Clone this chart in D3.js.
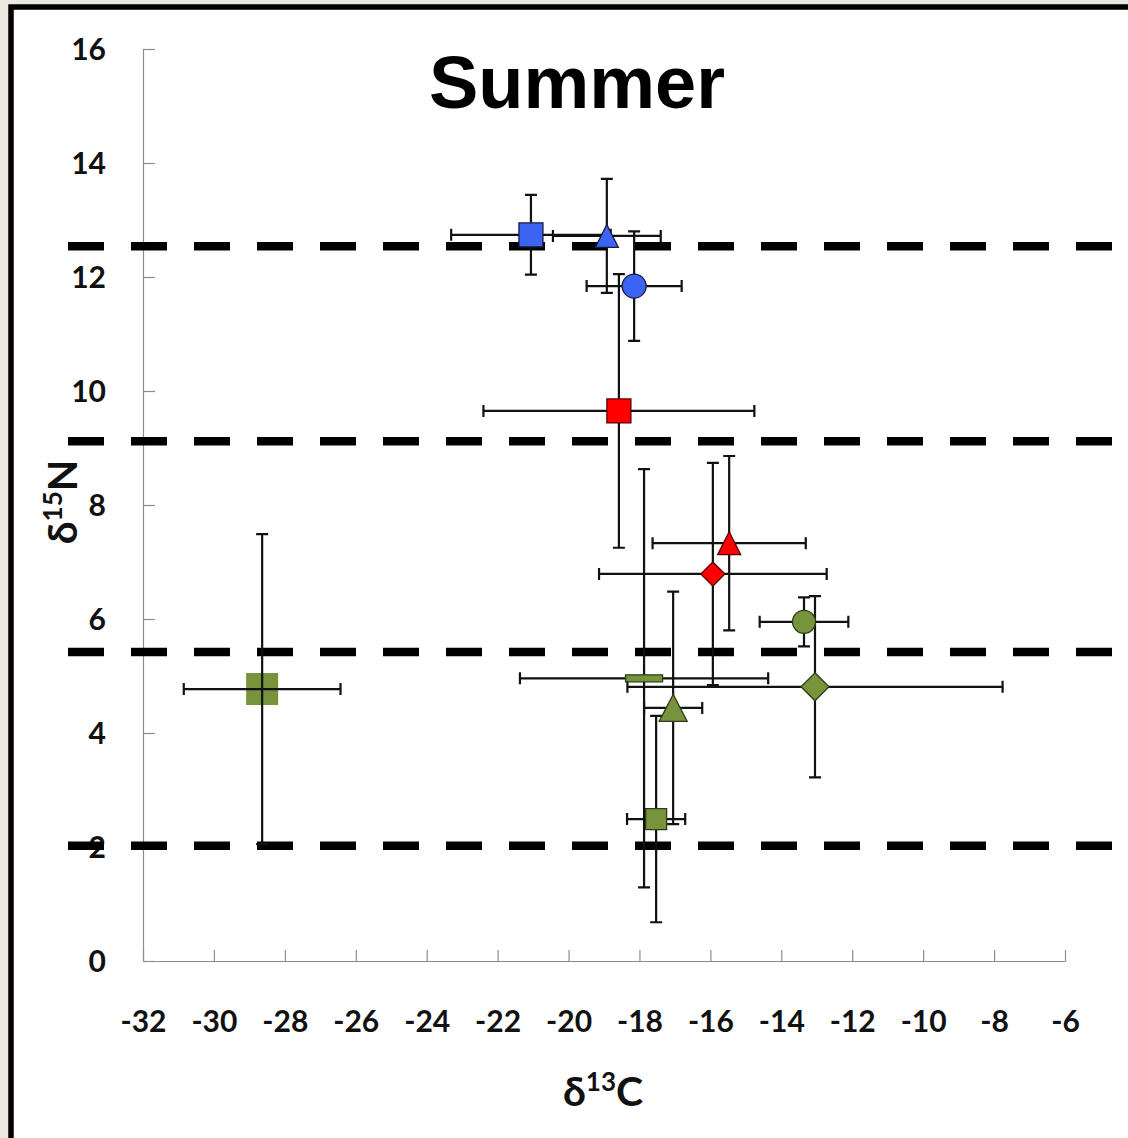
<!DOCTYPE html>
<html>
<head>
<meta charset="utf-8">
<script src="https://cdn.jsdelivr.net/npm/d3@7"></script>
<style>
  body { margin: 0; background: #ebe8df; }
  .tick text { font-family: Lato, "Open Sans", sans-serif; font-weight: bold; font-size: 30px; fill: #111; }
</style>
</head>
<body>
<div class="canvas"></div>
<script>
// values
const samples   = ['blue square', 'blue triangle', 'blue circle', 'red square', 'red triangle', 'red diamond',
                   'green circle', 'green diamond', 'green bar', 'green triangle', 'green small square', 'green big square'];
const d13C      = [-21.06, -18.92, -18.15, -18.58, -15.47, -15.93, -13.36, -13.05, -17.87, -17.05, -17.53, -28.64];
const d15N      = [12.74, 12.72, 11.84, 9.65, 7.33, 6.79, 5.95, 4.81, 4.96, 4.44, 2.49, 4.77];
const errC      = [2.25, 1.52, 1.34, 3.82, 2.16, 3.21, 1.25, 5.29, 3.5, 0.82, 0.82, 2.21];
const errN      = [0.7, 1.0, 0.96, 2.4, 1.53, 1.95, 0.43, 1.59, 3.67, 2.04, 1.81, 2.72];
const trophicLevels = [12.54, 9.12, 5.42, 2.02];
const xTicks = d3.range(-32, -5, 2);
const yTicks = d3.range(0, 17, 2);

// marker looks
const blue = '#3b64f2', red = '#ff0000', green = '#77933c';
const looks = {
  'blue square':        { shape: 'square',   w: 24, h: 24, fill: blue,  stroke: '#1b1b3a' },
  'blue triangle':      { shape: 'triangle', w: 23, h: 23, fill: blue,  stroke: '#1b1b3a' },
  'blue circle':        { shape: 'circle',   w: 24, h: 24, fill: blue,  stroke: '#1b1b3a' },
  'red square':         { shape: 'square',   w: 24, h: 24, fill: red,   stroke: '#5a0000' },
  'red triangle':       { shape: 'triangle', w: 23, h: 23, fill: red,   stroke: '#5a0000' },
  'red diamond':        { shape: 'diamond',  w: 24, h: 24, fill: red,   stroke: '#5a0000' },
  'green circle':       { shape: 'circle',   w: 23, h: 23, fill: green, stroke: '#2f3b17' },
  'green diamond':      { shape: 'diamond',  w: 28, h: 28, fill: green, stroke: '#2f3b17' },
  'green bar':          { shape: 'square',   w: 37, h: 7,  fill: green, stroke: '#2f3b17' },
  'green triangle':     { shape: 'triangle', w: 28, h: 27, fill: green, stroke: '#2f3b17' },
  'green small square': { shape: 'square',   w: 21, h: 21, fill: green, stroke: '#2f3b17' },
  'green big square':   { shape: 'square',   w: 32, h: 32, fill: green, stroke: 'none', under: true }
};

const dims = { width: 1128, height: 1138 };
const plot = { left: 143, right: 1065, top: 49, bottom: 961 };

const svg = d3.select('.canvas')
    .append('svg')
    .attr('width', dims.width)
    .attr('height', dims.height)
    .style('display', 'block');

svg.append('rect')
    .attr('width', dims.width).attr('height', dims.height)
    .attr('fill', '#ebe8df');

svg.append('rect')
    .attr('x', 11).attr('y', 7)
    .attr('width', 1300).attr('height', 1300)
    .attr('fill', '#fff')
    .attr('stroke', '#000')
    .attr('stroke-width', 5.5);

const x = d3.scaleLinear().domain([-32, -6]).range([plot.left, plot.right]);
const y = d3.scaleLinear().domain([0, 16]).range([plot.bottom, plot.top]);

// axes
const xAxis = svg.append('g')
    .attr('transform', `translate(0,${plot.bottom})`)
    .call(d3.axisBottom(x).tickValues(xTicks).tickFormat(d3.format('d'))
        .tickSizeInner(-11).tickSizeOuter(0).tickPadding(50));
const yAxis = svg.append('g')
    .attr('transform', `translate(${plot.left},0)`)
    .call(d3.axisLeft(y).tickValues(yTicks).tickFormat(d3.format('d'))
        .tickSizeInner(-12).tickSizeOuter(0).tickPadding(37));

[xAxis, yAxis].forEach(a => {
    a.select('.domain').attr('stroke', '#8c8c8c').attr('stroke-width', 1.2);
    a.selectAll('.tick line').attr('stroke', '#8c8c8c').attr('stroke-width', 1.2);
    a.attr('font-family', null).attr('font-size', null);
});
xAxis.selectAll('.tick text').text(d => d3.format('d')(d).replace('−', '-'));
yAxis.selectAll('.tick text').attr('dy', '0.35em');

// trophic level dashed lines
svg.append('g').selectAll('line')
    .data(trophicLevels)
    .enter().append('line')
      .attr('x1', 68).attr('x2', dims.width + 20)
      .attr('y1', d => y(d)).attr('y2', d => y(d))
      .attr('stroke', '#000')
      .attr('stroke-width', 8.5)
      .attr('stroke-dasharray', '36 27');

const points = samples.map((name, i) => ({
    name, c: d13C[i], n: d15N[i], ec: errC[i], en: errN[i], look: looks[name]
}));

const markerPath = (look) => {
    const w = look.w / 2, h = look.h / 2;
    switch (look.shape) {
        case 'square':   return `M${-w},${-h}H${w}V${h}H${-w}Z`;
        case 'triangle': return `M0,${-h}L${w},${h}L${-w},${h}Z`;
        case 'diamond':  return `M0,${-h}L${w},0L0,${h}L${-w},0Z`;
        case 'circle':   return `M${-w},0A${w},${h} 0 1,0 ${w},0A${w},${h} 0 1,0 ${-w},0Z`;
    }
};

const drawMarkers = (data) => {
    svg.append('g').selectAll('path')
        .data(data)
        .enter().append('path')
          .attr('transform', d => `translate(${x(d.c)},${y(d.n)})`)
          .attr('d', d => markerPath(d.look))
          .attr('fill', d => d.look.fill)
          .attr('stroke', d => d.look.stroke)
          .attr('stroke-width', 1.3);
};

drawMarkers(points.filter(d => d.look.under));

// error bars
const cap = 6;
const bars = svg.append('g')
    .attr('stroke', '#111')
    .attr('stroke-width', 2.2)
    .attr('fill', 'none');

const errPath = d => {
    const cx = x(d.c), cy = y(d.n);
    const xl = x(d.c - d.ec), xr = x(d.c + d.ec);
    const yt = y(d.n + d.en), yb = y(d.n - d.en);
    return `M${xl},${cy}H${xr}M${xl},${cy - cap}V${cy + cap}M${xr},${cy - cap}V${cy + cap}` +
           `M${cx},${yt}V${yb}M${cx - cap},${yt}H${cx + cap}M${cx - cap},${yb}H${cx + cap}`;
};

bars.selectAll('path')
    .data(points)
    .enter().append('path')
      .attr('d', errPath);

drawMarkers(points.filter(d => !d.look.under));

// titles
svg.append('text')
    .attr('x', 577).attr('y', 108)
    .attr('text-anchor', 'middle')
    .attr('font-family', '"Liberation Sans", Arial, sans-serif')
    .attr('font-weight', 'bold')
    .attr('font-size', 74)
    .text('Summer');

const axisTitle = (g, sup, letter) => {
    const t = g.append('text')
        .attr('text-anchor', 'middle')
        .attr('font-family', 'Lato, "Open Sans", sans-serif')
        .attr('font-weight', 'bold')
        .attr('font-size', 41)
        .attr('fill', '#111');
    t.append('tspan').text('δ');
    t.append('tspan').attr('font-size', 26).attr('dy', -15).text(sup);
    t.append('tspan').attr('dy', 15).text(letter);
};

axisTitle(svg.append('g').attr('transform', 'translate(603,1106)'), '13', 'C');
axisTitle(svg.append('g').attr('transform', 'translate(77,502) rotate(-90)'), '15', 'N');
</script>
</body>
</html>
